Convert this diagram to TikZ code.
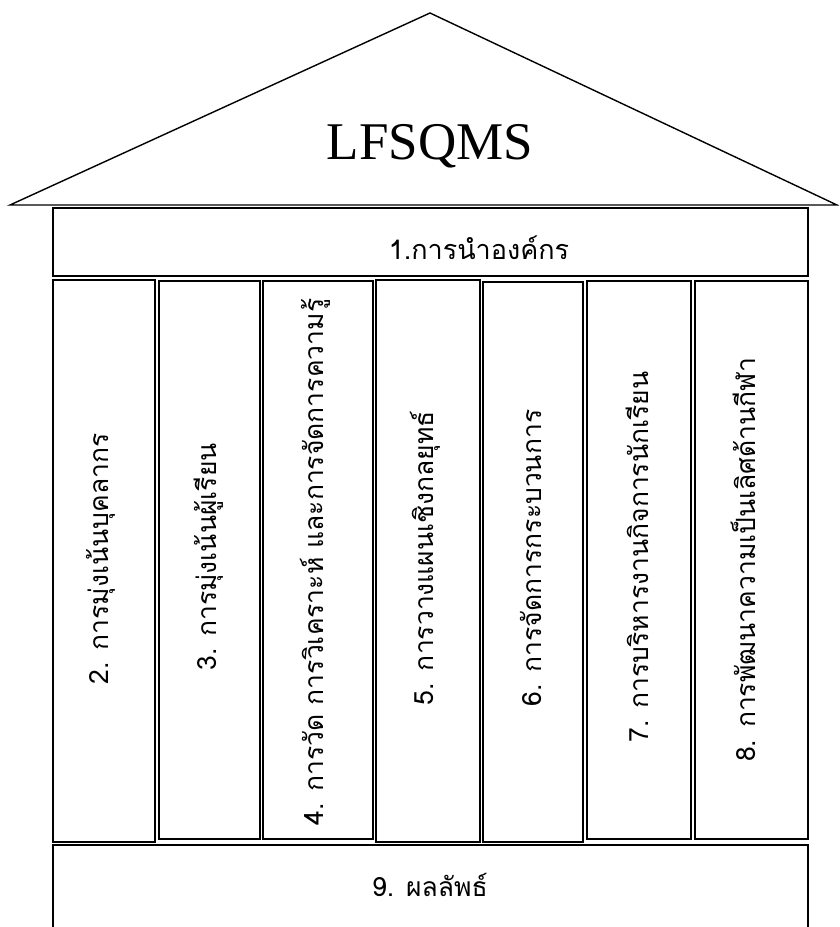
\documentclass[tikz,border=0pt]{standalone}
\usepackage{fontspec}
\setmainfont{Liberation Serif}
\newfontfamily\thaifont[Script=Thai]{Loma}
\begin{document}
\begin{tikzpicture}[x=1pt,y=-1pt,
  frame/.style={draw=black,line width=1.4pt},
  thaitext/.style={font=\thaifont\fontsize{26.5}{30}\selectfont,inner sep=0pt},
  toptext/.style={font=\thaifont\fontsize{27}{30}\selectfont,inner sep=0pt},
  coltext/.style={thaitext,rotate=90}]
\useasboundingbox (0,0) rectangle (839,927);
\clip (0,0) rectangle (839,927);
% roof
\coordinate (rl) at (10,205);
\coordinate (ra) at (430,13);
\coordinate (rr) at (837,205);
\draw[line width=1.4pt,line join=miter] (rl) -- (ra) -- (rr) -- cycle;
\node[font=\fontsize{53}{56}\selectfont,inner sep=0pt] (title) at (430,146) {LFSQMS};
% top box
\draw[frame] (53,208) rectangle (808,276);
\node[toptext] (t1) at (479,248) {1.การนำองค์กร};
% columns
\draw[frame] (53,280) rectangle (155,842);
\draw[frame] (159,281) rectangle (260,839);
\draw[frame] (263,281) rectangle (373,839);
\draw[frame] (376,280) rectangle (480,842);
\draw[frame] (483,282) rectangle (583,842);
\draw[frame] (587,281) rectangle (691,839);
\draw[frame] (695,281) rectangle (808,839);
\node[coltext] (c2) at (101,559) {2. การมุ่งเน้นบุคลากร};
\node[coltext] (c3) at (209,557) {3. การมุ่งเน้นผู้เรียน};
\node[coltext] (c4) at (315,562) {4. การวัด การวิเคราะห์ และการจัดการความรู้};
\node[coltext] (c5) at (425,558) {5. การวางแผนเชิงกลยุทธ์};
\node[coltext] (c6) at (531,558) {6. การจัดการกระบวนการ};
\node[coltext] (c7) at (637,557) {7. การบริหารงานกิจการนักเรียน};
\node[coltext] (c8) at (743,560) {8. การพัฒนาความเป็นเลิศด้านกีฬา};
% bottom box
\draw[frame] (53,960) -- (53,845) -- (808,845) -- (808,960);
\node[thaitext] (t9) at (430,885) {9. ผลลัพธ์};
\end{tikzpicture}
\end{document}
